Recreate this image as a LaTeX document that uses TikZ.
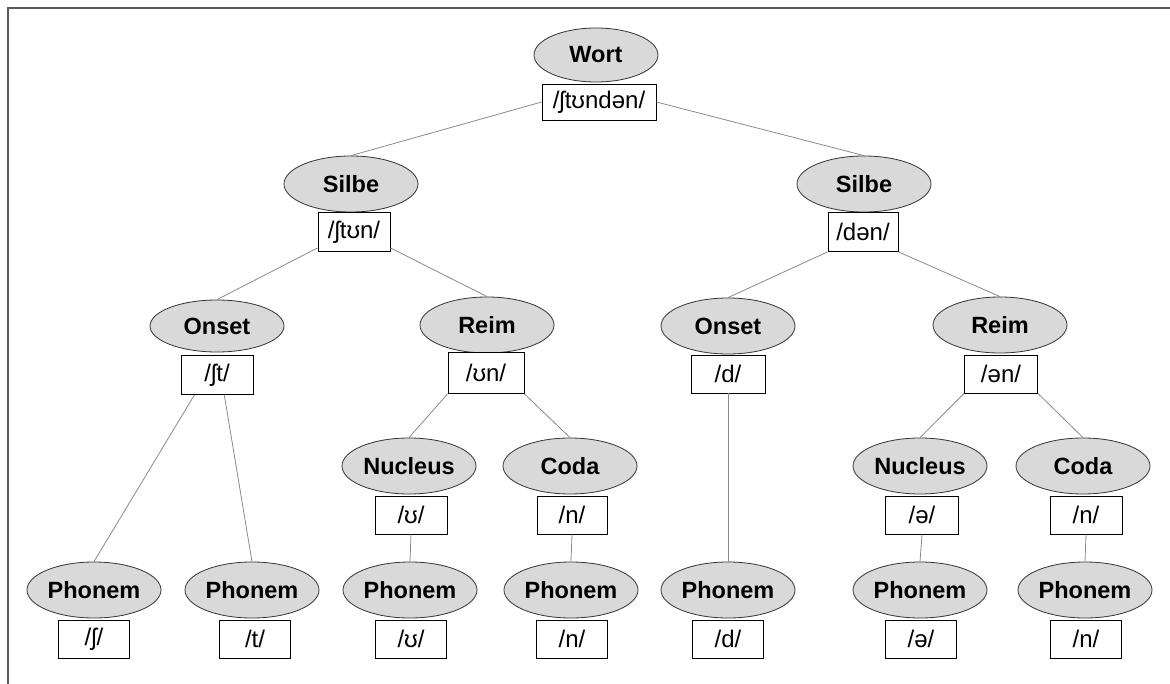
\documentclass[tikz,border=0pt]{standalone}
\usepackage{fontspec}
\setmainfont{Liberation Sans}
\usetikzlibrary{shapes.geometric,calc}
\definecolor{ellfill}{HTML}{D9D9D9}
\definecolor{framegray}{HTML}{5A5A5A}
\definecolor{linkgray}{HTML}{8A8A8A}
\begin{document}
\begin{tikzpicture}[x=1pt,y=-1pt,
  unit/.style={ellipse,draw=black!80,line width=0.8pt,fill=ellfill,
    minimum width=134pt,minimum height=56pt,inner sep=0pt,
    font=\fontsize{23.5}{26}\selectfont\bfseries},
  ipa/.style={rectangle,draw=black,line width=0.8pt,fill=white,
    minimum width=72pt,minimum height=38pt,inner sep=2pt,
    font=\fontsize{24}{26}\selectfont},
  link/.style={draw=linkgray,line width=0.8pt}]
\useasboundingbox (0,0) rectangle (1170,684);
% frame (top and left edges)
\draw[framegray,line width=1.4pt] (1170,8) -- (8,8) -- (8,684);

% word
\node[unit,minimum width=124pt,minimum height=54pt] (wort) at (596,55) {Wort};
\node[ipa,minimum width=114pt,minimum height=36pt] (wortT) at (599,102) {/ʃtʊndən/};

% syllables
\node[unit] (silL) at (351,184) {Silbe};
\node[ipa,minimum height=39pt] (silLT) at (354,232) {/ʃtʊn/};
\node[unit] (silR) at (864,184) {Silbe};
\node[ipa,minimum width=70pt,minimum height=39pt] (silRT) at (863,232) {/dən/};

% onset and rhyme
\node[unit,minimum height=52pt] (onsL) at (217,326) {Onset};
\node[ipa,minimum height=39pt] (onsLT) at (217,375) {/ʃt/};
\node[unit] (reimL) at (487,325) {Reim};
\node[ipa,minimum width=76pt,minimum height=41pt] (reimLT) at (486,373) {/ʊn/};
\node[unit] (onsR) at (728,326) {Onset};
\node[ipa,minimum width=74pt] (onsRT) at (728,374) {/d/};
\node[unit] (reimR) at (1000,325) {Reim};
\node[ipa,minimum width=73pt] (reimRT) at (1001,374) {/ən/};

% nucleus and coda
\node[unit] (nucL) at (409,466) {Nucleus};
\node[ipa] (nucLT) at (411,515) {/ʊ/};
\node[unit] (codL) at (570,466) {Coda};
\node[ipa,minimum width=70pt] (codLT) at (572,515) {/n/};
\node[unit] (nucR) at (920,466) {Nucleus};
\node[ipa,minimum width=73pt] (nucRT) at (922,515) {/ə/};
\node[unit] (codR) at (1083,466) {Coda};
\node[ipa] (codRT) at (1086,515) {/n/};

% phonemes
\foreach \n/\x/\tx/\t in {1/94/94/ʃ, 2/252/255/t, 3/410/411/ʊ, 4/571/572/n,
                          5/728/728/d, 6/920/921/ə, 7/1085/1086/n}{
  \node[unit] (ph\n) at (\x,590) {Phonem};
  \node[ipa,minimum width=71pt] (ph\n T) at (\tx,639) {/\t/};
}

% tree links
\draw[link] (wortT.west) -- (silL.north);
\draw[link] (wortT.east) -- (silR.north);
\draw[link] ($(silLT.south west)+(0,-4)$) -- (onsL.north);
\draw[link] ($(silLT.south east)+(0,-4)$) -- (reimL.north);
\draw[link] (silRT.south west) -- (onsR.north);
\draw[link] (silRT.south east) -- (reimR.north);
\draw[link] ($(onsLT.south west)!0.19!(onsLT.south east)$) -- (ph1.north);
\draw[link] ($(onsLT.south west)!0.60!(onsLT.south east)$) -- (ph2.north);
\draw[link] (reimLT.south west) -- (nucL.north);
\draw[link] (reimLT.south east) -- (codL.north);
\draw[link] (reimRT.south west) -- (nucR.north);
\draw[link] (reimRT.south east) -- (codR.north);
\draw[link] (onsRT.south) -- (ph5.north);
\draw[link] (nucLT.south) -- (ph3.north);
\draw[link] (codLT.south) -- (ph4.north);
\draw[link] (nucRT.south) -- (ph6.north);
\draw[link] (codRT.south) -- (ph7.north);
\end{tikzpicture}
\end{document}
